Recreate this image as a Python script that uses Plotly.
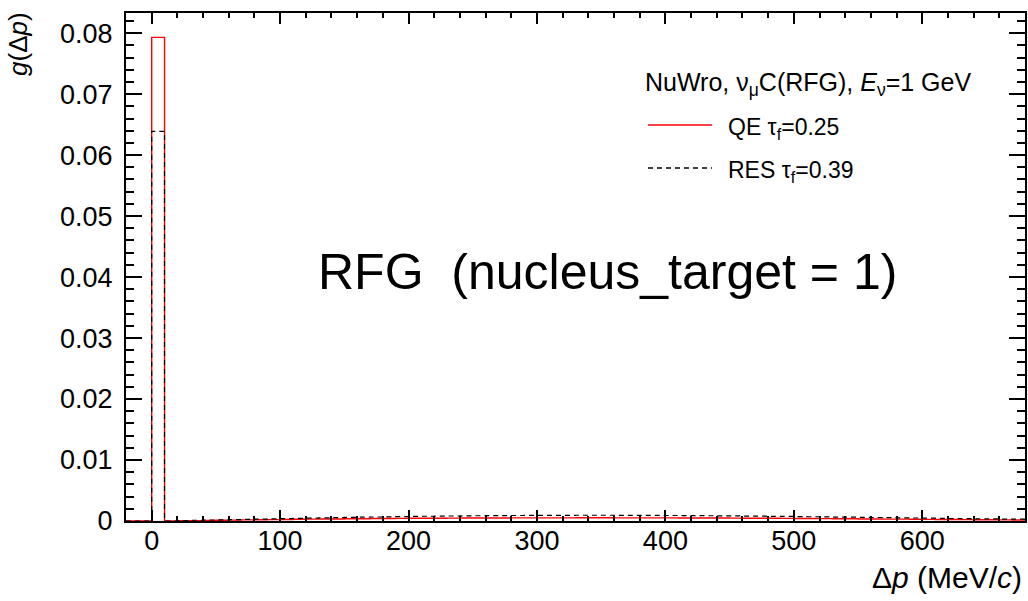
import plotly.graph_objects as go

# ---------------- data ----------------
bin_width = 10
bin_lo = -20
qe_values = [
    0, 0, 0.0793, 0,
    0.00003, 0.00006, 0.00009, 0.00012, 0.00015, 0.00018, 0.0002, 0.00023,
    0.00025, 0.00028, 0.0003, 0.00032, 0.00034, 0.00036, 0.00038, 0.0004, 0.00041, 0.00043,
    0.00044, 0.00045, 0.00046, 0.00047, 0.00048, 0.00049, 0.0005, 0.0005, 0.00051, 0.00051,
    0.00052, 0.00052, 0.00052, 0.00053, 0.00053, 0.00053, 0.00052, 0.00052, 0.00052, 0.00051,
    0.00051, 0.0005, 0.0005, 0.00049, 0.00048, 0.00047, 0.00046, 0.00045, 0.00044, 0.00043,
    0.00042, 0.0004, 0.00039, 0.00037, 0.00036, 0.00034, 0.00033, 0.00031, 0.0003, 0.00028,
    0.00027, 0.00025, 0.00024, 0.00022, 0.00021, 0.0002, 0.00018, 0.00017,
]
res_values = [
    0, 0, 0.0639, 0,
    0.00008, 0.00012, 0.00016, 0.0002, 0.00024, 0.00028, 0.00032, 0.00036,
    0.0004, 0.00044, 0.00048, 0.00052, 0.00056, 0.0006, 0.00063, 0.00066, 0.00069, 0.00072,
    0.00075, 0.00078, 0.0008, 0.00082, 0.00084, 0.00086, 0.00088, 0.00089, 0.0009, 0.00091,
    0.00092, 0.00093, 0.00093, 0.00094, 0.00094, 0.00094, 0.00093, 0.00093, 0.00092, 0.00091,
    0.0009, 0.00089, 0.00088, 0.00086, 0.00085, 0.00083, 0.00081, 0.00079, 0.00077, 0.00075,
    0.00073, 0.0007, 0.00068, 0.00065, 0.00062, 0.0006, 0.00057, 0.00054, 0.00051, 0.00049,
    0.00046, 0.00044, 0.00041, 0.00039, 0.00036, 0.00034, 0.00032, 0.0003,
]
x_ticks = [0, 100, 200, 300, 400, 500, 600]
y_ticks = [0, 0.01, 0.02, 0.03, 0.04, 0.05, 0.06, 0.07, 0.08]
y_tick_labels = ["0", "0.01", "0.02", "0.03", "0.04", "0.05", "0.06", "0.07", "0.08"]
x_range = [-20, 680]
y_range = [0, 0.0833]

# ---------------- layout geometry ----------------
W, H = 1028, 601
L, R, T, B = 126, 1025, 13, 521


def px(xp):
    return (xp - L) / (R - L)


def py(yp):
    return (B - yp) / (B - T)


def step(values):
    edges = [bin_lo + bin_width * i for i in range(len(values) + 1)]
    return edges, list(values) + [values[-1]]


FONT = "Liberation Sans, Arial, Helvetica, sans-serif"

fig = go.Figure()
ex, ey = step(qe_values)
fig.add_trace(go.Scatter(x=ex, y=ey, mode="lines", line=dict(shape="hv", color="#ff0000", width=1.4),
                         name="QE", showlegend=False, hoverinfo="skip"))
ex, ey = step(res_values)
fig.add_trace(go.Scatter(x=ex, y=ey, mode="lines", line=dict(shape="hv", color="black", width=1.2, dash="5px,4px"),
                         name="RES", showlegend=False, hoverinfo="skip"))

axis_common = dict(showline=True, linecolor="black", linewidth=2, mirror="allticks", ticks="inside",
                   tickcolor="black", tickwidth=2, showgrid=False, zeroline=False,
                   tickfont=dict(family=FONT, size=27, color="black"))

fig.update_xaxes(range=x_range, tickvals=x_ticks, ticklen=11,
                 minor=dict(dtick=20, ticks="inside", ticklen=5, tickcolor="black", tickwidth=2, showgrid=False),
                 ticklabelstandoff=-5, **axis_common)
fig.update_yaxes(range=y_range, tickvals=y_ticks, ticktext=y_tick_labels, ticklen=16,
                 minor=dict(dtick=0.002, ticks="inside", ticklen=8, tickcolor="black", tickwidth=2, showgrid=False),
                 ticklabelstandoff=6, **axis_common)

ann = []
# axis titles
ann.append(dict(text="<i>g</i>(Δ<i>p</i>)", x=px(18), y=py(10), xref="paper", yref="paper", textangle=-90,
                xanchor="center", yanchor="top", showarrow=False, font=dict(family=FONT, size=26, color="black")))
ann.append(dict(text="Δ<i>p</i> (MeV/<i>c</i>)", x=px(1024), y=py(577), xref="paper", yref="paper",
                xanchor="right", yanchor="middle", showarrow=False, font=dict(family=FONT, size=30, color="black")))
# big label
ann.append(dict(text="RFG  (nucleus_target = 1)", x=px(607), y=py(272), xref="paper", yref="paper",
                xanchor="center", yanchor="middle", showarrow=False, font=dict(family=FONT, size=50, color="black")))
# legend
ann.append(dict(text="NuWro, ν<sub>μ</sub>C(RFG), <i>E</i><sub>ν</sub>=1 GeV", x=px(643), y=py(84), xref="paper",
                yref="paper", xanchor="left", yanchor="middle", showarrow=False,
                font=dict(family=FONT, size=25, color="black")))
ann.append(dict(text="QE τ<sub>f</sub>=0.25", x=px(726), y=py(128), xref="paper", yref="paper",
                xanchor="left", yanchor="middle", showarrow=False, font=dict(family=FONT, size=23, color="black")))
ann.append(dict(text="RES τ<sub>f</sub>=0.39", x=px(726), y=py(171), xref="paper", yref="paper",
                xanchor="left", yanchor="middle", showarrow=False, font=dict(family=FONT, size=23, color="black")))

shapes = [
    dict(type="line", xref="paper", yref="paper", x0=px(648), x1=px(712), y0=py(125), y1=py(125),
         line=dict(color="#ff0000", width=1.5)),
    dict(type="line", xref="paper", yref="paper", x0=px(648), x1=px(712), y0=py(168), y1=py(168),
         line=dict(color="black", width=1.3, dash="5px,4px")),
]

fig.update_layout(width=W, height=H, margin=dict(l=L, r=W - R, t=T, b=H - B, autoexpand=False),
                  plot_bgcolor="white", paper_bgcolor="white", annotations=ann, shapes=shapes,
                  showlegend=False, font=dict(family=FONT, color="black"))

fig.write_html("out.html", config={"displayModeBar": False},
               post_script="document.body.style.margin='0';document.body.style.overflow='hidden';")
